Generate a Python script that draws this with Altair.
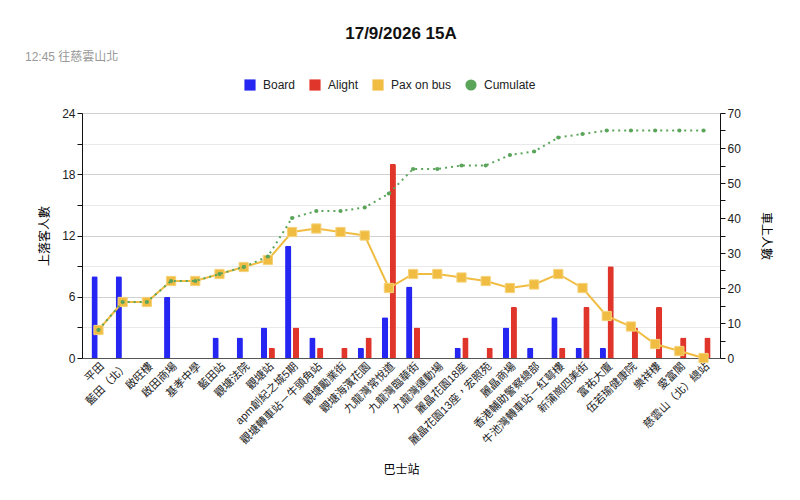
import altair as alt
import pandas as pd

# Bus stops of route 15A, 12:45 departure
stops = [
    '平田', '藍田（北）', '啟旺樓', '啟田商場', '基孝中學', '藍田站', '觀塘法院', '觀塘站',
    'apm創紀之城5期', '觀塘轉車站－牛頭角站', '觀塘勵業街', '觀塘海濱花園', '九龍灣常悅道',
    '九龍灣臨華街', '九龍灣運動場', '麗晶花園18座', '麗晶花園13座，宏照苑', '麗晶商場',
    '香港輔助警察總部', '牛池灣轉車站－紅萼樓', '新蒲崗四美街', '富祐大廈', '伍若瑜健康院',
    '樂祥樓', '愛富閣', '慈雲山（北）總站',
]
board = [8, 8, 0, 6, 0, 2, 2, 3, 11, 2, 0, 1, 4, 7, 0, 1, 0, 3, 1, 4, 1, 1, 0, 0, 0, 0]
alight = [0, 0, 0, 0, 0, 0, 0, 1, 3, 1, 1, 2, 19, 3, 0, 2, 1, 5, 0, 1, 5, 9, 3, 5, 2, 2]
pax_on_bus = [8, 16, 16, 22, 22, 24, 26, 28, 36, 37, 36, 35, 20, 24, 24, 23, 22, 20, 21, 24,
              20, 12, 9, 4, 2, 0]
cumulate = [8, 16, 16, 22, 22, 24, 26, 29, 40, 42, 42, 43, 47, 54, 54, 55, 55, 58, 59, 63,
            64, 65, 65, 65, 65, 65]

series = ['Board', 'Alight', 'Pax on bus', 'Cumulate']
colors = ['#2626f2', '#e0352b', '#f0bd42', '#5ba55b']
title_text = '17/9/2026 15A'
subtitle_text = '12:45 往慈雲山北'

FONT = "Liberation Sans, Noto Sans CJK TC, sans-serif"

board_df = pd.DataFrame({'stop': stops, 'series': 'Board', 'value': board})
alight_df = pd.DataFrame({'stop': stops, 'series': 'Alight', 'value': alight})
line_df = pd.DataFrame({'stop': stops, 'pax': pax_on_bus, 'cum': cumulate})

x_enc = alt.X('stop:N', sort=stops,
              scale=alt.Scale(paddingInner=0.42, paddingOuter=0.39),
              axis=alt.Axis(title='巴士站', labelAngle=-45, labelFontSize=11,
                            labelColor='#222', ticks=False, domainColor='#555',
                            titlePadding=18, titleFontSize=12, titleFontWeight='normal'))
xoff_enc = alt.XOffset('series:N', scale=alt.Scale(domain=['Board', 'Alight'], paddingInner=0.2))

left_y = alt.Y('value:Q', scale=alt.Scale(domain=[0, 24], nice=False),
               axis=alt.Axis(title='上落客人數', values=list(range(0, 25, 3)),
                             labelExpr="datum.value % 6 === 0 ? datum.label : ''",
                             gridColor={'condition': {'test': 'datum.value % 6 === 0',
                                                      'value': '#d0d0d0'},
                                        'value': '#e9e9e9'},
                             titleFontWeight='normal', titleFontSize=12, titlePadding=10))

board_bars = alt.Chart(board_df).mark_bar(
    color=colors[0], cornerRadiusTopLeft=1.5, cornerRadiusTopRight=1.5
).encode(x=x_enc, xOffset=xoff_enc, y=left_y)

alight_bars = alt.Chart(alight_df).mark_bar(
    color=colors[1], cornerRadiusTopLeft=1.5, cornerRadiusTopRight=1.5
).encode(x=x_enc, xOffset=xoff_enc, y=left_y)

right_axis = alt.Axis(orient='right', title='車上人數',
                      values=list(range(0, 71, 5)), grid=False,
                      labelExpr="datum.value % 10 === 0 ? datum.label : ''",
                      titleFontWeight='normal', titleFontSize=12, titlePadding=18)

pax = alt.Chart(line_df).mark_line(
    color=colors[2], strokeWidth=2,
    point=alt.OverlayMarkDef(shape='square', size=85, filled=True, color=colors[2],
                             stroke='#f5d27a', strokeWidth=1),
).encode(
    x=x_enc,
    y=alt.Y('pax:Q', scale=alt.Scale(domain=[0, 70], nice=False), axis=right_axis),
)

cum = alt.Chart(line_df).mark_line(
    color=colors[3], strokeWidth=2, strokeDash=[2, 4],
    point=alt.OverlayMarkDef(size=18, filled=True, color=colors[3]),
).encode(
    x=x_enc,
    y=alt.Y('cum:Q', axis=right_axis),
)

# legend only: no marks drawn, colour + shape merged into one legend
legend_def = alt.Legend(orient='none', legendX=162, legendY=-34, direction='horizontal',
                        title=None, symbolSize=125, labelFontSize=12, labelColor='#222',
                        columnPadding=13, labelOffset=7, symbolStrokeWidth=0)
legend_layer = alt.Chart(pd.DataFrame({'series': series})).mark_point(
    filled=True, opacity=1
).encode(
    color=alt.Color('series:N', scale=alt.Scale(domain=series, range=colors), legend=legend_def),
    shape=alt.Shape('series:N',
                    scale=alt.Scale(domain=series, range=['square', 'square', 'square', 'circle']),
                    legend=legend_def),
).transform_filter('false')

subtitle = alt.Chart(pd.DataFrame({'t': [subtitle_text]})).mark_text(
    align='left', baseline='middle', fontSize=12, color='#999'
).encode(text='t:N', x=alt.value(-57), y=alt.value(-56))

chart = alt.layer(
    alt.layer(board_bars, alight_bars), alt.layer(pax, cum), legend_layer, subtitle
).resolve_scale(
    y='independent'
).properties(
    width=638, height=245,
    autosize=alt.AutoSizeParams(type='none'),
    padding={'left': 74, 'top': 105, 'right': 72, 'bottom': 134},
    title=alt.TitleParams(title_text, fontSize=17, fontWeight='bold', anchor='middle',
                          frame='group', offset=8, color='#111'),
).configure(
    font=FONT,
).configure_view(
    stroke=None
).configure_axis(
    labelFontSize=12, labelColor='#222', domainColor='#111', tickColor='#111',
    tickSize=5,
)

chart.save("out.html", embed_options={"renderer": "svg", "actions": False})
